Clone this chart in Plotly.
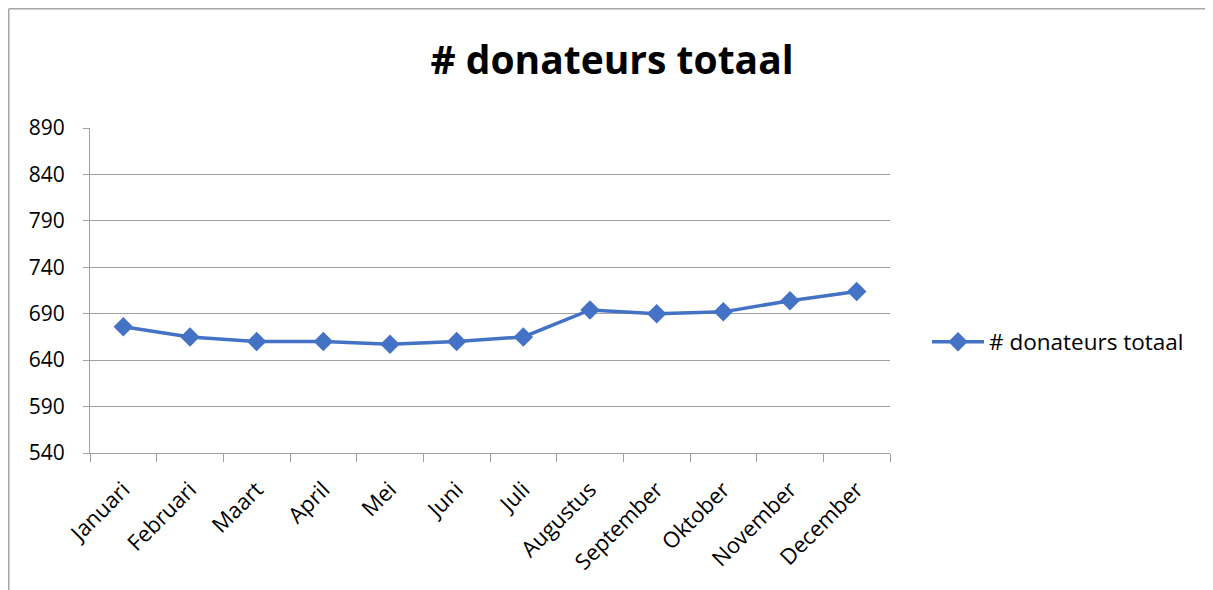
import plotly.graph_objects as go

months = ["Januari", "Februari", "Maart", "April", "Mei", "Juni", "Juli",
          "Augustus", "September", "Oktober", "November", "December"]
donateurs = [676, 665, 660, 660, 657, 660, 665, 694, 690, 692, 704, 714]
y_ticks = [540, 590, 640, 690, 740, 790, 840, 890]

W, H = 1213, 590
OFF = 8  # page body margin offset
L, R, T, B = 90 - OFF, 890 - OFF, 128 - OFF, 453 - OFF

FONT = "Open Sans"
BLUE = "#4472C4"
GRID = "#a0a0a0"

fig = go.Figure()
fig.add_trace(go.Scatter(
    x=months, y=donateurs, mode="lines+markers", name="# donateurs totaal",
    line=dict(color=BLUE, width=3.5),
    marker=dict(symbol="diamond", size=15, color=BLUE),
))

def px_x(p):
    return (p - OFF - L) / (R - L)

def px_y(p):
    return (B - (p - OFF)) / (B - T)

fig.update_layout(
    width=W, height=H,
    margin=dict(l=L, r=W - R, t=T, b=H - B),
    paper_bgcolor="white", plot_bgcolor="white",
    font=dict(family=FONT, color="black", size=21),
    title=dict(text="<b># donateurs totaal</b>", x=(612 - OFF) / W, xref="container",
               xanchor="center", y=1 - (60 - OFF) / H, yref="container", yanchor="middle",
               font=dict(family=FONT, size=39, color="black")),
    showlegend=True,
    legend=dict(x=px_x(927), y=px_y(342), xanchor="left", yanchor="middle",
                font=dict(family=FONT, size=22.5, color="black"),
                itemwidth=52, bgcolor="rgba(0,0,0,0)"),
    xaxis=dict(type="category", categoryorder="array", categoryarray=months,
               range=[-0.5, 11.5], tickson="boundaries", ticks="outside", ticklen=8,
               tickcolor=GRID, showline=True, linecolor=GRID, linewidth=1,
               showgrid=False, tickangle=-45, tickfont=dict(family=FONT, size=22),
               ticklabelstandoff=14, fixedrange=True),
    yaxis=dict(range=[540, 890], tickvals=y_ticks, ticks="outside", ticklen=6,
               tickcolor=GRID, showline=True, linecolor=GRID, linewidth=1,
               showgrid=True, gridcolor=GRID, gridwidth=1, zeroline=False,
               tickfont=dict(family=FONT, size=21), ticklabelstandoff=14,
               fixedrange=True),
    shapes=[
        dict(type="line", xref="paper", yref="paper", x0=px_x(8.75), x1=px_x(W + 20),
             y0=px_y(8.75), y1=px_y(8.75), line=dict(color="#a6a6a6", width=1.5)),
        dict(type="line", xref="paper", yref="paper", x0=px_x(8.75), x1=px_x(8.75),
             y0=px_y(8.75), y1=px_y(H + 20), line=dict(color="#a6a6a6", width=1.5)),
    ],
)

fig.write_html("out.html")
